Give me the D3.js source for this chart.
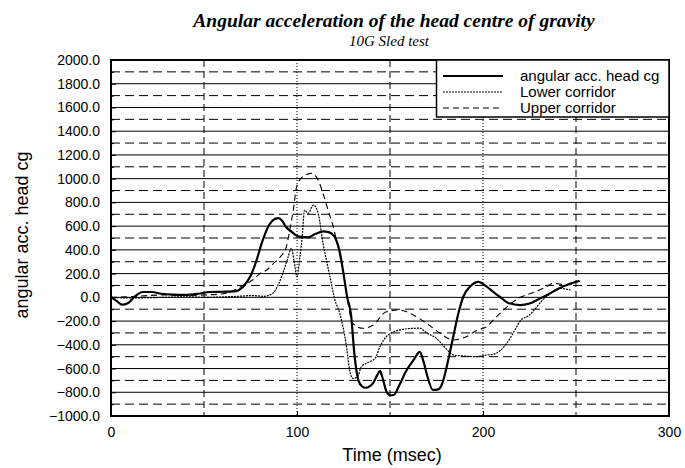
<!DOCTYPE html>
<html lang="en">
<head>
	<meta charset="utf-8">
	<title>Angular acceleration of the head centre of gravity</title>
	<script src="https://d3js.org/d3.v7.min.js"></script>
</head>
<body>
	<div id="chart"></div>
</body>
</html>

<script type="text/javascript">
	var w = 685;
	var h = 468;

	var xTicks = [0, 100, 200, 300];
	var yTicks = [-1000, -800, -600, -400, -200, 0, 200, 400, 600, 800, 1000, 1200, 1400, 1600, 1800, 2000];
	var yDashed = [-900, -700, -500, -300, -100, 100, 300, 500, 700, 900, 1100, 1300, 1500, 1700, 1900];
	var xDashed = [50, 150, 250];
	var xDotted = [100, 200];

	var seriesNames = ["angular acc. head cg", "Lower corridor", "Upper corridor"];

	// angular acc. head cg
	var timeHead = [0, 3, 6, 9, 13, 17, 22, 27, 33, 40, 47, 53, 60, 66, 71, 75, 78, 81, 85, 88, 90, 92, 94, 97, 101, 106, 110, 114, 117, 120, 123, 125, 127, 129, 131, 133, 135, 137, 139, 141, 143, 144.6, 146, 148, 150, 152, 155, 159, 163, 166, 168, 170, 173, 176, 178.7, 180.5, 184, 187, 189.4, 193, 197.5, 202, 206, 209, 214, 220, 225, 230, 235, 241, 246, 252];
	var accHead = [0, -30, -62, -50, 10, 45, 45, 30, 22, 20, 30, 45, 47, 50, 90, 180, 300, 455, 610, 660, 668, 645, 595, 553, 512, 505, 535, 555, 550, 515, 380, 200, 0, -140, -500, -700, -750, -762, -750, -720, -660, -620, -680, -790, -825, -823, -740, -613, -520, -460, -540, -660, -780, -775, -697, -585, -332, -120, 5, 90, 131, 90, 40, 5, -50, -65, -52, -15, 25, 76, 110, 140];

	// Lower corridor
	var timeLower = [0, 10, 20, 30, 40, 50, 60, 70, 76, 82, 87, 90, 93, 95, 97, 98.5, 100, 101.5, 103, 104, 106, 108.8, 111.4, 114, 116, 117.7, 120.4, 123, 126.6, 128.3, 130, 132.6, 134.6, 138, 142, 144.6, 148, 155, 162.5, 166, 169.7, 175, 180, 184, 190, 196, 202, 206, 212.7, 217, 220, 225, 229, 232, 236, 241, 247];
	var accLower = [0, -5, -3, 0, 5, 0, 3, 10, 15, 8, 34, 110, 230, 330, 413, 300, 174, 330, 550, 735, 708, 778, 708, 455, 300, 174, -23, -135, -416, -613, -683, -669, -585, -551, -514, -416, -332, -276, -261, -260, -300, -346, -430, -486, -495, -500, -486, -478, -388, -280, -200, -149, -80, -23, 30, 76, 62];

	// Upper corridor
	var timeUpper = [0, 10, 20, 30, 40, 50, 60, 66, 71, 76.5, 80, 83.7, 87, 91, 94.3, 96, 98, 99.8, 103, 108, 111.4, 114, 116.7, 119.5, 122, 124.8, 126.6, 130, 135.6, 141, 148, 155, 162.5, 169.7, 177, 184, 191, 197, 202, 205.5, 211, 216, 220, 227, 233, 238, 245, 250];
	var accUpper = [0, 5, 15, 20, 15, 20, 30, 60, 100, 150, 200, 230, 280, 340, 426, 560, 735, 932, 1016, 1045, 988, 876, 735, 595, 426, 230, 34, -219, -261, -233, -121, -107, -149, -219, -303, -360, -332, -276, -248, -191, -107, -40, 0, 40, 80, 118, 104, 125];

	function zip(ts, vs) {
		return ts.map(function(t, i) { return [t, vs[i]]; });
	}

	var x = d3.scaleLinear().domain([0, 300]).range([111, 669]);
	var y = d3.scaleLinear().domain([-1000, 2000]).range([416, 60]);

	var svg = d3.select("#chart")
		.append("svg")
		.attr("width", w)
		.attr("height", h)
		.style("background", "#fff");

	// titles
	svg.append("text")
		.text("Angular acceleration of the head centre of gravity")
		.attr("x", 394)
		.attr("y", 27)
		.attr("text-anchor", "middle")
		.attr("font-family", "'Liberation Serif', 'DejaVu Serif', serif")
		.attr("font-style", "italic")
		.attr("font-weight", "bold")
		.attr("font-size", "19.5px");

	svg.append("text")
		.text("10G Sled test")
		.attr("x", 389)
		.attr("y", 46)
		.attr("text-anchor", "middle")
		.attr("font-family", "'Liberation Serif', 'DejaVu Serif', serif")
		.attr("font-style", "italic")
		.attr("font-size", "15px");

	// grid
	var grid = svg.append("g");
	grid.selectAll("line.hsolid")
		.data(yTicks.slice(1, -1))
		.enter()
		.append("line")
		.attr("x1", x(0)).attr("x2", x(300))
		.attr("y1", function(d) { return y(d); })
		.attr("y2", function(d) { return y(d); })
		.attr("stroke", "#000")
		.attr("stroke-width", 1);

	grid.selectAll("line.hdash")
		.data(yDashed)
		.enter()
		.append("line")
		.attr("x1", x(0)).attr("x2", x(300))
		.attr("y1", function(d) { return y(d); })
		.attr("y2", function(d) { return y(d); })
		.attr("stroke", "#000")
		.attr("stroke-width", 1)
		.attr("stroke-dasharray", "9,5");

	grid.selectAll("line.vdash")
		.data(xDashed)
		.enter()
		.append("line")
		.attr("x1", function(d) { return x(d); })
		.attr("x2", function(d) { return x(d); })
		.attr("y1", y(2000)).attr("y2", y(-1000))
		.attr("stroke", "#000")
		.attr("stroke-width", 1)
		.attr("stroke-dasharray", "7,4");

	grid.selectAll("line.vdot")
		.data(xDotted)
		.enter()
		.append("line")
		.attr("x1", function(d) { return x(d); })
		.attr("x2", function(d) { return x(d); })
		.attr("y1", y(2000)).attr("y2", y(-1000))
		.attr("stroke", "#000")
		.attr("stroke-width", 1)
		.attr("stroke-dasharray", "1,2");

	// axes
	svg.append("g")
		.attr("transform", "translate(" + x(0) + ",0)")
		.call(d3.axisLeft(y).tickValues(yTicks).tickFormat(d3.format(".1f")).tickSize(-5).tickPadding(11));
	svg.append("g")
		.attr("transform", "translate(" + x(0) + ",0)")
		.call(d3.axisLeft(y).tickValues(yDashed).tickFormat("").tickSize(-3));

	svg.append("g")
		.attr("transform", "translate(0," + y(-1000) + ")")
		.call(d3.axisBottom(x).tickValues(xTicks).tickSize(-5).tickPadding(11));

	svg.selectAll(".domain").remove();
	svg.selectAll(".tick text")
		.attr("font-family", "'Liberation Sans', Arial, sans-serif")
		.attr("font-size", "14px")
		.attr("fill", "#000");
	svg.selectAll(".tick line").attr("stroke", "#000");

	svg.append("text")
		.text("Time (msec)")
		.attr("x", 392)
		.attr("y", 461)
		.attr("text-anchor", "middle")
		.attr("font-family", "'Liberation Sans', Arial, sans-serif")
		.attr("font-size", "18px");

	svg.append("text")
		.text("angular acc. head cg")
		.attr("transform", "translate(28,235) rotate(-90)")
		.attr("text-anchor", "middle")
		.attr("font-family", "'Liberation Sans', Arial, sans-serif")
		.attr("font-size", "18px");

	// curves
	var line = d3.line()
		.x(function(d) { return x(d[0]); })
		.y(function(d) { return y(d[1]); })
		.curve(d3.curveMonotoneX);

	var styles = [
		{ width: 2.2, dash: null },
		{ width: 1.2, dash: "2,1" },
		{ width: 1.1, dash: "6,4" }
	];
	var series = [zip(timeHead, accHead), zip(timeLower, accLower), zip(timeUpper, accUpper)];

	svg.selectAll("path.curve")
		.data(series)
		.enter()
		.append("path")
		.attr("class", "curve")
		.attr("d", line)
		.attr("fill", "none")
		.attr("stroke", "#000")
		.attr("stroke-width", function(d, i) { return styles[i].width; })
		.attr("stroke-dasharray", function(d, i) { return styles[i].dash; });

	// frame
	svg.append("rect")
		.attr("x", x(0))
		.attr("y", y(2000))
		.attr("width", x(300) - x(0))
		.attr("height", y(-1000) - y(2000))
		.attr("fill", "none")
		.attr("stroke", "#000")
		.attr("stroke-width", 2);

	// legend
	var legend = svg.append("g");
	legend.append("rect")
		.attr("x", 436.5)
		.attr("y", 60)
		.attr("width", 669 - 436.5)
		.attr("height", 57)
		.attr("fill", "#fff")
		.attr("stroke", "#000")
		.attr("stroke-width", 1.5);

	var rows = legend.selectAll("g.row")
		.data(seriesNames)
		.enter()
		.append("g")
		.attr("transform", function(d, i) { return "translate(0," + (76 + i * 16) + ")"; });

	rows.append("line")
		.attr("x1", 443).attr("x2", 503)
		.attr("stroke", "#000")
		.attr("stroke-width", function(d, i) { return styles[i].width; })
		.attr("stroke-dasharray", function(d, i) { return styles[i].dash; });

	rows.append("text")
		.text(function(d) { return d; })
		.attr("x", 520)
		.attr("dy", "0.35em")
		.attr("font-family", "'Liberation Sans', Arial, sans-serif")
		.attr("font-size", "15px");
</script>
<style type="text/css">
	body { margin: 0; background: #fff; }
</style>
